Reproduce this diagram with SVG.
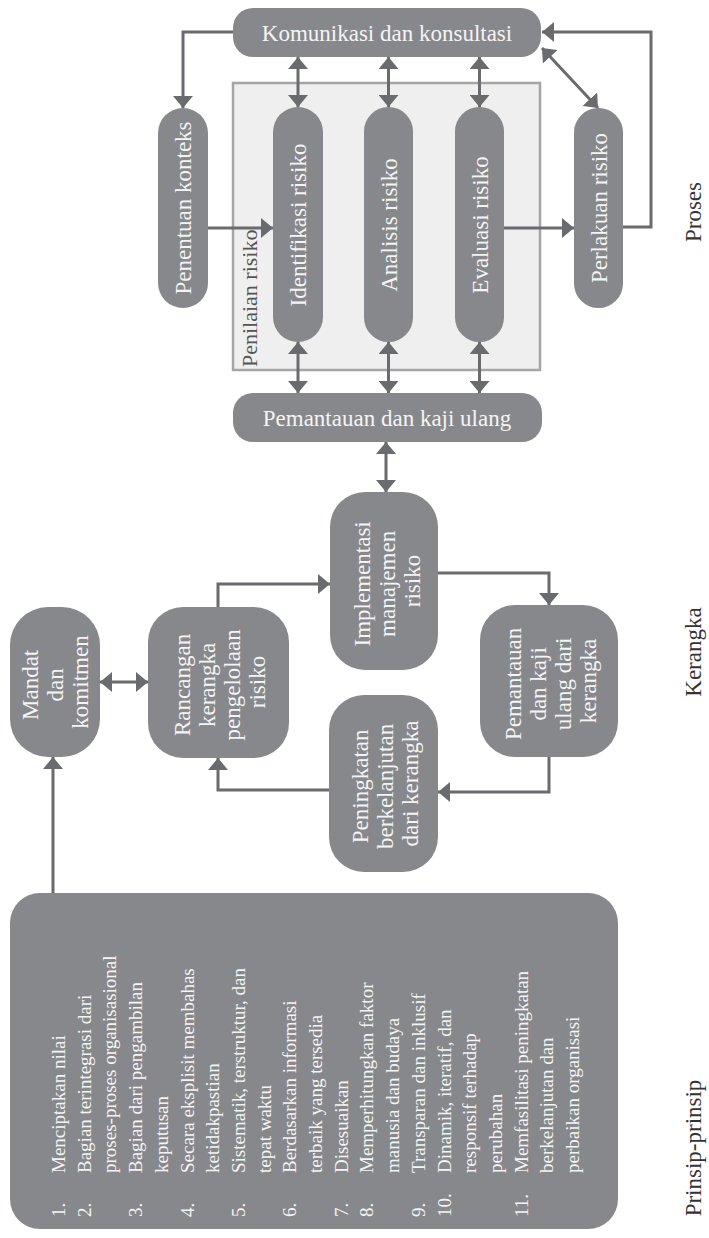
<svg xmlns="http://www.w3.org/2000/svg" width="709" height="1238" viewBox="0 0 709 1238">
  <style>
    .node { fill: #87888c; }
    .nt { font-family: "Liberation Serif", serif; font-size: 23px; fill: #f4f4f4; text-anchor: middle; }
    .lt { font-family: "Liberation Serif", serif; font-size: 19px; fill: #f4f4f4; }
    .lab { font-family: "Liberation Serif", serif; font-size: 23px; fill: #333333; text-anchor: middle; }
    .sub { font-family: "Liberation Serif", serif; font-size: 22px; fill: #555555; }
    .con { fill: none; stroke: #6a6b6e; stroke-width: 3; }
    .one { marker-end: url(#ah); }
    .two { marker-start: url(#ah); marker-end: url(#ah); }
  </style>
  <defs>
    <marker id="ah" viewBox="0 0 12 20" refX="12" refY="10" markerWidth="12" markerHeight="20" markerUnits="userSpaceOnUse" orient="auto-start-reverse">
      <path d="M0,0 L12,10 L0,20 z" fill="#6a6b6e"/>
    </marker>
  </defs>

  <rect width="709" height="1238" fill="#ffffff"/>

  <!-- risk assessment frame -->
  <g id="penilaian-risiko">
    <rect x="233" y="83" width="307" height="287" fill="#efefef" stroke="#a5a5a5" stroke-width="2.5"/>
    <text class="sub" transform="translate(257,367) rotate(-90)" x="0" y="0">Penilaian risiko</text>
  </g>

  <!-- connectors -->
  <g id="connectors">
    <path class="con one" d="M233,32 H183 V108"/>
    <path class="con two" d="M298,57 V107"/>
    <path class="con two" d="M388.5,57 V107"/>
    <path class="con two" d="M479.5,57 V107"/>
    <path class="con two" d="M542,48 L598,108"/>
    <path class="con one" d="M623,227 H651 V32 H542"/>
    <path class="con one" d="M208,228 H273"/>
    <path class="con one" d="M504,228 H574"/>
    <path class="con two" d="M298,342 V393"/>
    <path class="con two" d="M388.5,342 V393"/>
    <path class="con two" d="M479.5,342 V393"/>
    <path class="con two" d="M386,442 V492"/>
    <path class="con one" d="M438,573 H549 V605"/>
    <path class="con one" d="M549,757 V792 H438"/>
    <path class="con one" d="M329,790 H218 V758"/>
    <path class="con one" d="M218,607 V584 H330"/>
    <path class="con two" d="M100,682 H148"/>
    <path class="con one" d="M53,893 V757"/>
  </g>

  <!-- process nodes -->
  <g id="komunikasi">
    <rect class="node" x="233" y="8" width="308" height="49" rx="20"/>
    <text class="nt" x="387" y="41">Komunikasi dan konsultasi</text>
  </g>
  <g id="penentuan-konteks">
    <rect class="node" x="158" y="108" width="50" height="200" rx="25"/>
    <text class="nt" transform="translate(183,208) rotate(-90)" x="0" y="8">Penentuan konteks</text>
  </g>
  <g id="identifikasi">
    <rect class="node" x="273" y="107" width="50" height="235" rx="25"/>
    <text class="nt" transform="translate(298,225) rotate(-90)" x="0" y="8">Identifikasi risiko</text>
  </g>
  <g id="analisis">
    <rect class="node" x="364" y="107" width="49" height="235" rx="24.5"/>
    <text class="nt" transform="translate(388.5,225) rotate(-90)" x="0" y="8">Analisis risiko</text>
  </g>
  <g id="evaluasi">
    <rect class="node" x="455" y="107" width="49" height="235" rx="24.5"/>
    <text class="nt" transform="translate(479.5,225) rotate(-90)" x="0" y="8">Evaluasi risiko</text>
  </g>
  <g id="perlakuan">
    <rect class="node" x="574" y="108" width="49" height="200" rx="24.5"/>
    <text class="nt" transform="translate(598.5,208) rotate(-90)" x="0" y="8">Perlakuan risiko</text>
  </g>
  <g id="pemantauan">
    <rect class="node" x="233" y="393" width="309" height="49" rx="20"/>
    <text class="nt" x="387" y="426">Pemantauan dan kaji ulang</text>
  </g>

  <!-- framework nodes -->
  <g id="implementasi">
    <rect class="node" x="330" y="492" width="108" height="178" rx="35"/>
    <text class="nt" transform="translate(384,581) rotate(-90)">
      <tspan x="0" y="-14">Implementasi</tspan>
      <tspan x="0" dy="25">manajemen</tspan>
      <tspan x="0" dy="25">risiko</tspan>
    </text>
  </g>
  <g id="rancangan">
    <rect class="node" x="148" y="607" width="141" height="151" rx="35"/>
    <text class="nt" transform="translate(218.5,682) rotate(-90)">
      <tspan x="0" y="-28.5">Rancangan</tspan>
      <tspan x="0" dy="25">kerangka</tspan>
      <tspan x="0" dy="25">pengelolaan</tspan>
      <tspan x="0" dy="25">risiko</tspan>
    </text>
  </g>
  <g id="pemantauan-kerangka">
    <rect class="node" x="480" y="605" width="138" height="152" rx="35"/>
    <text class="nt" transform="translate(549,681) rotate(-90)">
      <tspan x="0" y="-28.5">Pemantauan</tspan>
      <tspan x="0" dy="25">dan kaji</tspan>
      <tspan x="0" dy="25">ulang dari</tspan>
      <tspan x="0" dy="25">kerangka</tspan>
    </text>
  </g>
  <g id="peningkatan">
    <rect class="node" x="329" y="695" width="109" height="177" rx="35"/>
    <text class="nt" transform="translate(383.5,783.5) rotate(-90)">
      <tspan x="0" y="-16">Peningkatan</tspan>
      <tspan x="0" dy="25">berkelanjutan</tspan>
      <tspan x="0" dy="25">dari kerangka</tspan>
    </text>
  </g>
  <g id="mandat">
    <rect class="node" x="10" y="607" width="90" height="150" rx="38"/>
    <text class="nt" transform="translate(55,682) rotate(-90)">
      <tspan x="0" y="-17">Mandat</tspan>
      <tspan x="0" dy="25">dan</tspan>
      <tspan x="0" dy="25">komitmen</tspan>
    </text>
  </g>

  <!-- principles -->
  <g id="prinsip">
    <rect class="node" x="10" y="893" width="608" height="336" rx="30"/>
    <g class="lt" transform="rotate(-90)">
      <text x="-1217" y="65">1.</text>
      <text x="-1173" y="65">Menciptakan nilai</text>
      <text x="-1217" y="90.7">2.</text>
      <text x="-1173" y="90.7">Bagian terintegrasi dari</text>
      <text x="-1173" y="116.4">proses-proses organisasional</text>
      <text x="-1217" y="142.1">3.</text>
      <text x="-1173" y="142.1">Bagian dari pengambilan</text>
      <text x="-1173" y="167.8">keputusan</text>
      <text x="-1217" y="193.5">4.</text>
      <text x="-1173" y="193.5">Secara eksplisit membahas</text>
      <text x="-1173" y="219.2">ketidakpastian</text>
      <text x="-1217" y="244.9">5.</text>
      <text x="-1173" y="244.9">Sistematik, terstruktur, dan</text>
      <text x="-1173" y="270.6">tepat waktu</text>
      <text x="-1217" y="296.3">6.</text>
      <text x="-1173" y="296.3">Berdasarkan informasi</text>
      <text x="-1173" y="322">terbaik yang tersedia</text>
      <text x="-1217" y="347.7">7.</text>
      <text x="-1173" y="347.7">Disesuaikan</text>
      <text x="-1217" y="373.4">8.</text>
      <text x="-1173" y="373.4">Memperhitungkan faktor</text>
      <text x="-1173" y="399.1">manusia dan budaya</text>
      <text x="-1217" y="424.8">9.</text>
      <text x="-1173" y="424.8">Transparan dan inklusif</text>
      <text x="-1217" y="450.5">10.</text>
      <text x="-1173" y="450.5">Dinamik, iteratif, dan</text>
      <text x="-1173" y="476.2">responsif terhadap</text>
      <text x="-1173" y="501.9">perubahan</text>
      <text x="-1217" y="527.6">11.</text>
      <text x="-1173" y="527.6">Memfasilitasi peningkatan</text>
      <text x="-1173" y="553.3">berkelanjutan dan</text>
      <text x="-1173" y="579">perbaikan organisasi</text>
    </g>
  </g>

  <!-- section labels -->
  <g id="labels">
    <text class="lab" transform="translate(701,212) rotate(-90)">Proses</text>
    <text class="lab" transform="translate(701,652) rotate(-90)">Kerangka</text>
    <text class="lab" transform="translate(701,1148) rotate(-90)">Prinsip-prinsip</text>
  </g>
</svg>
